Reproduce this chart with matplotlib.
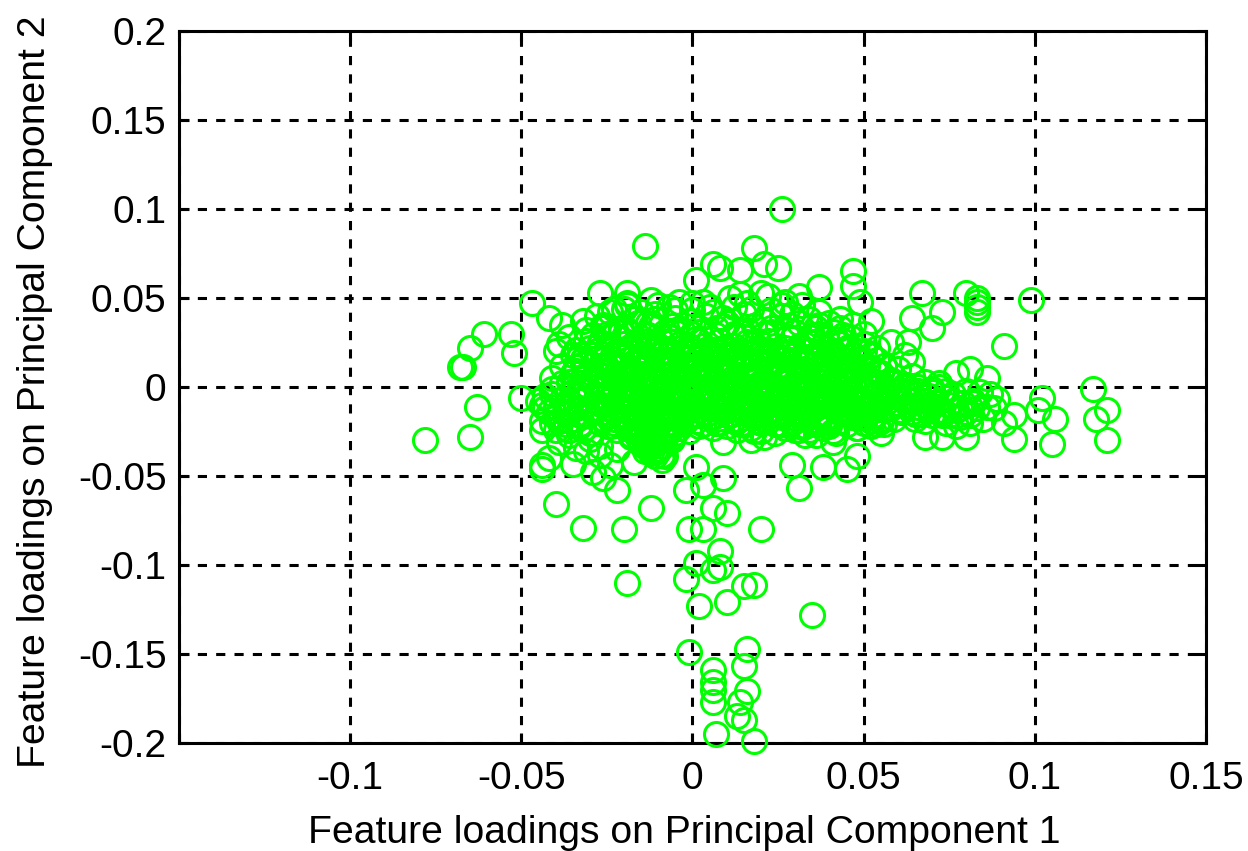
import matplotlib
matplotlib.use('Agg')
import matplotlib.pyplot as plt

plt.rcParams['font.family'] = ['Liberation Sans', 'DejaVu Sans']

xtick_vals = [-0.15, -0.1, -0.05, 0, 0.05, 0.1, 0.15]
xtick_text = ['', '-0.1', '-0.05', '0', '0.05', '0.1', '0.15']
ytick_vals = [-0.2, -0.15, -0.1, -0.05, 0, 0.05, 0.1, 0.15, 0.2]
ytick_text = ['-0.2', '-0.15', '-0.1', '-0.05', '0', '0.05', '0.1', '0.15', '0.2']

# points standing on their own, left side of the cloud
left_x = [-0.078, -0.068, -0.067, -0.065, -0.061, -0.053, -0.052, -0.063, -0.065, -0.050,
          -0.047, -0.042, -0.039, -0.040, -0.044, -0.042, -0.044, -0.044, -0.040, -0.032,
          -0.020, -0.019, -0.012, -0.014, -0.027, -0.019, -0.022, -0.035, -0.029, -0.026,
          -0.024, -0.017, -0.009, -0.019, -0.012, -0.004, -0.038, -0.032, -0.024]
left_y = [-0.030, 0.011, 0.011, 0.022, 0.030, 0.030, 0.019, -0.011, -0.028, -0.006,
          0.047, 0.039, 0.024, 0.020, -0.024, -0.040, -0.044, -0.046, -0.066, -0.079,
          -0.080, -0.110, -0.068, 0.079, 0.053, 0.053, -0.058, -0.043, -0.048, -0.051,
          -0.044, -0.042, -0.041, 0.046, 0.049, 0.048, 0.035, 0.037, 0.042]

# the tail going down along x = 0
low_x = [-0.001, 0.003, 0.010, 0.006, 0.020, -0.002, 0.003, 0.009, 0.001, 0.008,
         0.001, 0.008, 0.006, -0.002, 0.015, 0.018, 0.002, 0.010, 0.035, -0.001,
         0.016, 0.006, 0.015, 0.006, 0.006, 0.016, 0.006, 0.014, 0.013, 0.015,
         0.007, 0.018, 0.029, 0.031, 0.009]
low_y = [-0.080, -0.080, -0.071, -0.068, -0.080, -0.058, -0.055, -0.051, -0.045, -0.092,
         -0.099, -0.101, -0.103, -0.108, -0.112, -0.111, -0.123, -0.121, -0.128, -0.149,
         -0.147, -0.159, -0.157, -0.166, -0.170, -0.171, -0.177, -0.177, -0.185, -0.187,
         -0.195, -0.199, -0.044, -0.057, -0.031]

# top and right outliers
right_x = [0.026, 0.018, 0.006, 0.008, 0.014, 0.021, 0.025, 0.001, 0.037, 0.047,
           0.047, 0.049, 0.052, 0.067, 0.073, 0.064, 0.070, 0.080, 0.083, 0.083,
           0.083, 0.083, 0.091, 0.099, 0.064, 0.063, 0.077, 0.081, 0.086, 0.072,
           0.102, 0.101, 0.106, 0.105, 0.117, 0.121, 0.118, 0.121, 0.094, 0.094,
           0.089, 0.055, 0.068, 0.073, 0.080, 0.048, 0.045, 0.038, 0.041, 0.031, 0.017]
right_y = [0.100, 0.078, 0.069, 0.067, 0.066, 0.069, 0.067, 0.060, 0.056, 0.065,
           0.057, 0.048, 0.037, 0.053, 0.042, 0.039, 0.033, 0.053, 0.050, 0.048,
           0.045, 0.042, 0.023, 0.049, 0.014, 0.025, 0.008, 0.010, 0.005, 0.002,
           -0.006, -0.013, -0.018, -0.032, -0.001, -0.013, -0.018, -0.030, -0.029, -0.016,
           -0.007, -0.026, -0.028, -0.028, -0.028, -0.039, -0.046, -0.045, -0.031, -0.024, -0.030]

# dense middle of the cloud
core_x = [-0.021, -0.013, -0.006, 0.002, 0.009, 0.016, 0.023, 0.031, 0.038, 0.045,
          -0.026, -0.017, -0.009, -0.002, 0.005, 0.013, 0.020, 0.027, 0.034, 0.042,
          -0.023, -0.015, -0.007, 0.001, 0.007, 0.011, 0.018, 0.025, 0.036, 0.047,
          -0.028, -0.019, -0.011, -0.004, 0.003, 0.010, 0.017, 0.024, 0.032, 0.040,
          -0.025, -0.016, -0.008, -0.001, 0.006, 0.014, 0.021, 0.029, 0.037, 0.045,
          -0.030, -0.021, -0.012, -0.005, 0.002, 0.009, 0.016, 0.023, 0.033, 0.041,
          -0.027, -0.018, -0.010, -0.003, 0.004, 0.012, 0.019, 0.027, 0.035, 0.048,
          -0.024, -0.014, -0.007, 0.000, 0.008, 0.015, 0.022, 0.030, 0.039, 0.046,
          -0.029, -0.020, -0.012, -0.004, 0.003, 0.011, 0.018, 0.026, 0.034, 0.043,
          -0.026, -0.017, -0.009, -0.002, 0.006, 0.013, 0.021, 0.028, 0.037, 0.049,
          -0.019, -0.011, -0.003, 0.004, 0.012, 0.019, 0.026, 0.033, 0.040, 0.047,
          -0.024, -0.015, -0.008, 0.000, 0.008, 0.015, 0.022, 0.029, 0.036, 0.044,
          -0.022, -0.013, -0.005, 0.003, 0.010, 0.017, 0.024, 0.031, 0.039, 0.046,
          -0.027, -0.018, -0.010, -0.002, 0.005, 0.012, 0.020, 0.028, 0.035, 0.043,
          -0.023, -0.014, -0.006, 0.001, 0.009, 0.016, 0.023, 0.032, 0.038, 0.050,
          -0.028, -0.019, -0.011, -0.003, 0.004, 0.011, 0.018, 0.025, 0.033, 0.042,
          -0.025, -0.016, -0.008, 0.000, 0.007, 0.014, 0.021, 0.029, 0.036, 0.045,
          -0.022, -0.013, -0.005, 0.002, 0.010, 0.017, 0.024, 0.031, 0.040, 0.047,
          -0.027, -0.018, -0.009, -0.001, 0.005, 0.012, 0.019, 0.027, 0.034, 0.041,
          -0.024, -0.015, -0.007, 0.001, 0.008, 0.015, 0.023, 0.030, 0.038, 0.044,
          -0.020, -0.012, -0.004, 0.004, 0.011, 0.018, 0.025, 0.032, 0.039, 0.046,
          -0.026, -0.017, -0.009, -0.002, 0.006, 0.013, 0.020, 0.028, 0.035, 0.042,
          -0.021, -0.012, -0.005, 0.003, 0.009, 0.016, 0.022, 0.030, 0.037, 0.044,
          -0.023, -0.014, -0.006, 0.002, 0.007, 0.014, 0.020, 0.026, 0.033, 0.040]
core_y = [0.021, 0.024, 0.019, 0.026, 0.022, 0.025, 0.020, 0.023, 0.019, 0.022,
          0.015, 0.017, 0.019, 0.016, 0.018, 0.015, 0.019, 0.016, 0.017, 0.014,
          0.012, 0.011, 0.013, 0.012, 0.010, 0.013, 0.011, 0.012, 0.010, 0.012,
          0.008, 0.007, 0.006, 0.008, 0.005, 0.007, 0.006, 0.008, 0.005, 0.007,
          0.003, 0.002, 0.004, 0.001, 0.003, 0.002, 0.004, 0.001, 0.003, 0.002,
          -0.002, -0.001, -0.003, -0.001, -0.002, -0.003, -0.001, -0.002, -0.003, -0.001,
          -0.006, -0.005, -0.007, -0.006, -0.005, -0.007, -0.006, -0.005, -0.007, -0.006,
          -0.010, -0.011, -0.009, -0.010, -0.011, -0.009, -0.010, -0.011, -0.009, -0.010,
          -0.014, -0.013, -0.015, -0.013, -0.014, -0.015, -0.013, -0.014, -0.015, -0.013,
          -0.018, -0.017, -0.019, -0.018, -0.017, -0.019, -0.018, -0.017, -0.019, -0.017,
          0.018, 0.020, 0.017, 0.021, 0.018, 0.022, 0.017, 0.020, 0.016, 0.018,
          0.009, 0.014, 0.010, 0.014, 0.009, 0.010, 0.014, 0.009, 0.013, 0.009,
          0.005, 0.006, 0.009, 0.005, 0.010, 0.004, 0.008, 0.005, 0.008, 0.005,
          0.001, 0.000, 0.002, 0.003, 0.000, 0.003, 0.000, 0.003, 0.000, 0.004,
          -0.004, -0.003, -0.005, -0.004, -0.003, -0.005, -0.004, -0.003, -0.005, -0.003,
          -0.009, -0.008, -0.010, -0.008, -0.009, -0.008, -0.009, -0.008, -0.010, -0.008,
          -0.012, -0.014, -0.012, -0.015, -0.012, -0.013, -0.012, -0.014, -0.012, -0.012,
          -0.016, -0.015, -0.017, -0.016, -0.016, -0.016, -0.015, -0.016, -0.017, -0.015,
          0.024, 0.022, 0.026, 0.023, 0.027, 0.023, 0.026, 0.022, 0.025, 0.020,
          0.013, 0.016, 0.015, 0.010, 0.014, 0.017, 0.015, 0.018, 0.012, 0.016,
          0.006, 0.004, 0.007, 0.007, 0.004, 0.005, 0.006, 0.004, 0.006, 0.004,
          -0.001, 0.001, 0.000, 0.003, -0.001, 0.000, 0.001, -0.001, 0.001, 0.000,
          -0.007, -0.009, -0.006, -0.008, -0.007, -0.010, -0.007, -0.008, -0.006, -0.009,
          -0.020, -0.021, -0.020, -0.022, -0.020, -0.021, -0.020, -0.021, -0.022, -0.020]

# second pass over the solid part, rows of 12
solid_x = [-0.027, -0.020, -0.013, -0.006, 0.001, 0.008, 0.015, 0.022, 0.029, 0.036, 0.043, 0.050,
           -0.025, -0.018, -0.011, -0.004, 0.003, 0.010, 0.017, 0.024, 0.031, 0.038, 0.045, 0.052,
           -0.022, -0.015, -0.008, -0.001, 0.006, 0.013, 0.020, 0.027, 0.034, 0.041, 0.048, 0.054,
           -0.029, -0.021, -0.014, -0.007, 0.000, 0.007, 0.014, 0.021, 0.028, 0.035, 0.042, 0.049,
           -0.026, -0.019, -0.012, -0.005, 0.002, 0.009, 0.016, 0.023, 0.030, 0.037, 0.044, 0.051,
           -0.024, -0.017, -0.010, -0.003, 0.004, 0.011, 0.018, 0.025, 0.032, 0.039, 0.046, 0.053,
           -0.023, -0.016, -0.009, -0.002, 0.005, 0.012, 0.019, 0.026, 0.033, 0.040, 0.047, 0.055,
           -0.027, -0.020, -0.013, -0.006, 0.001, 0.008, 0.015, 0.022, 0.029, 0.036, 0.043, 0.050,
           -0.025, -0.018, -0.011, -0.004, 0.003, 0.010, 0.017, 0.024, 0.031, 0.038, 0.045, 0.052,
           -0.022, -0.015, -0.008, -0.001, 0.006, 0.013, 0.020, 0.027, 0.034, 0.041, 0.048, 0.054,
           -0.029, -0.021, -0.014, -0.007, 0.000, 0.007, 0.014, 0.021, 0.028, 0.035, 0.042, 0.049,
           -0.026, -0.019, -0.012, -0.005, 0.002, 0.009, 0.016, 0.023, 0.030, 0.037, 0.044, 0.051,
           -0.024, -0.017, -0.010, -0.003, 0.004, 0.011, 0.018, 0.025, 0.032, 0.039, 0.046, 0.053,
           -0.023, -0.016, -0.009, -0.002, 0.005, 0.012, 0.019, 0.026, 0.033, 0.040, 0.047, 0.055,
           -0.027, -0.020, -0.013, -0.006, 0.001, 0.008, 0.015, 0.022, 0.029, 0.036, 0.043, 0.050,
           -0.025, -0.018, -0.011, -0.004, 0.003, 0.010, 0.017, 0.024, 0.031, 0.038, 0.045, 0.052,
           -0.022, -0.015, -0.008, -0.001, 0.006, 0.013, 0.020, 0.027, 0.034, 0.041, 0.048, 0.054,
           -0.029, -0.021, -0.014, -0.007, 0.000, 0.007, 0.014, 0.021, 0.028, 0.035, 0.042, 0.049,
           -0.026, -0.019, -0.012, -0.005, 0.002, 0.009, 0.016, 0.023, 0.030, 0.037, 0.044, 0.051,
           -0.024, -0.017, -0.010, -0.003, 0.004, 0.011, 0.018, 0.025, 0.032, 0.039, 0.046, 0.053,
           -0.023, -0.016, -0.009, -0.002, 0.005, 0.012, 0.019, 0.026, 0.033, 0.040, 0.047, 0.055,
           -0.027, -0.020, -0.013, -0.006, 0.001, 0.008, 0.015, 0.022, 0.029, 0.036, 0.043, 0.050,
           -0.025, -0.018, -0.011, -0.004, 0.003, 0.010, 0.017, 0.024, 0.031, 0.038, 0.045, 0.052,
           -0.022, -0.015, -0.008, -0.001, 0.006, 0.013, 0.020, 0.027, 0.034, 0.041, 0.048, 0.054,
           -0.029, -0.021, -0.014, -0.007, 0.000, 0.007, 0.014, 0.021, 0.028, 0.035, 0.042, 0.049,
           -0.026, -0.019, -0.012, -0.005, 0.002, 0.009, 0.016, 0.023, 0.030, 0.037, 0.044, 0.051,
           -0.024, -0.017, -0.010, -0.003, 0.004, 0.011, 0.018, 0.025, 0.032, 0.039, 0.046, 0.053,
           -0.023, -0.016, -0.009, -0.002, 0.005, 0.012, 0.019, 0.026, 0.033, 0.040, 0.047, 0.055]
solid_y = [0.025, 0.024, 0.026, 0.025, 0.027, 0.026, 0.028, 0.026, 0.027, 0.025, 0.024, 0.020,
           0.022, 0.023, 0.022, 0.024, 0.023, 0.022, 0.024, 0.023, 0.022, 0.023, 0.021, 0.018,
           0.020, 0.021, 0.020, 0.019, 0.021, 0.020, 0.021, 0.019, 0.020, 0.019, 0.020, 0.015,
           0.018, 0.017, 0.018, 0.019, 0.017, 0.018, 0.017, 0.018, 0.019, 0.017, 0.016, 0.016,
           0.016, 0.015, 0.016, 0.014, 0.016, 0.015, 0.016, 0.014, 0.015, 0.016, 0.015, 0.012,
           0.013, 0.014, 0.012, 0.013, 0.012, 0.014, 0.013, 0.012, 0.014, 0.013, 0.012, 0.010,
           0.011, 0.010, 0.011, 0.009, 0.011, 0.010, 0.009, 0.011, 0.010, 0.009, 0.010, 0.008,
           0.009, 0.008, 0.007, 0.008, 0.009, 0.008, 0.007, 0.009, 0.008, 0.007, 0.008, 0.006,
           0.006, 0.007, 0.005, 0.006, 0.007, 0.006, 0.005, 0.006, 0.007, 0.005, 0.006, 0.004,
           0.004, 0.003, 0.004, 0.005, 0.003, 0.004, 0.003, 0.005, 0.004, 0.003, 0.004, 0.002,
           0.002, 0.001, 0.002, 0.003, 0.001, 0.002, 0.001, 0.002, 0.003, 0.001, 0.002, 0.000,
           0.000, -0.001, 0.001, 0.000, -0.001, 0.000, -0.001, 0.001, 0.000, -0.001, 0.000, -0.002,
           -0.002, -0.001, -0.003, -0.002, -0.001, -0.002, -0.003, -0.002, -0.001, -0.003, -0.002, -0.004,
           -0.004, -0.003, -0.004, -0.005, -0.003, -0.004, -0.005, -0.003, -0.004, -0.005, -0.004, -0.006,
           -0.006, -0.005, -0.006, -0.007, -0.005, -0.006, -0.007, -0.005, -0.006, -0.007, -0.006, -0.008,
           -0.008, -0.007, -0.008, -0.009, -0.007, -0.008, -0.009, -0.007, -0.008, -0.009, -0.008, -0.010,
           -0.010, -0.009, -0.011, -0.010, -0.009, -0.011, -0.010, -0.009, -0.011, -0.010, -0.009, -0.012,
           -0.012, -0.011, -0.012, -0.013, -0.011, -0.012, -0.013, -0.011, -0.012, -0.013, -0.011, -0.014,
           -0.014, -0.013, -0.014, -0.015, -0.013, -0.014, -0.015, -0.013, -0.014, -0.015, -0.013, -0.015,
           -0.016, -0.015, -0.016, -0.017, -0.015, -0.016, -0.017, -0.015, -0.016, -0.017, -0.015, -0.017,
           -0.018, -0.017, -0.018, -0.019, -0.017, -0.018, -0.019, -0.017, -0.018, -0.019, -0.017, -0.018,
           -0.020, -0.019, -0.020, -0.021, -0.019, -0.020, -0.021, -0.019, -0.020, -0.021, -0.019, -0.020,
           -0.022, -0.021, -0.022, -0.023, -0.021, -0.022, -0.023, -0.021, -0.022, -0.023, -0.021, -0.019,
           -0.024, -0.023, -0.024, -0.025, -0.023, -0.024, -0.025, -0.023, -0.024, -0.025, -0.023, -0.021,
           0.029, 0.031, 0.030, 0.028, 0.030, 0.029, 0.031, 0.030, 0.028, 0.029, 0.027, 0.014,
           0.033, 0.032, 0.034, 0.031, 0.033, 0.034, 0.032, 0.033, 0.031, 0.030, 0.029, 0.005,
           -0.003, -0.006, -0.009, -0.012, -0.005, -0.008, -0.011, -0.004, -0.007, -0.010, -0.013, -0.016,
           0.006, 0.003, -0.002, -0.005, 0.008, 0.002, -0.004, 0.007, 0.001, -0.006, -0.012, -0.009]

# the blob under the cloud at x = -0.012
blob_x = [-0.017, -0.015, -0.013, -0.011, -0.009, -0.007, -0.016, -0.014, -0.012, -0.010,
          -0.008, -0.006, -0.015, -0.013, -0.011, -0.009, -0.014, -0.012, -0.010, -0.013,
          -0.011, -0.009, -0.012, -0.010, -0.016, -0.008, -0.018, -0.006, -0.005, -0.019]
blob_y = [-0.024, -0.025, -0.024, -0.026, -0.025, -0.024, -0.028, -0.029, -0.028, -0.030,
          -0.029, -0.028, -0.032, -0.033, -0.032, -0.033, -0.036, -0.037, -0.036, -0.035,
          -0.039, -0.038, -0.033, -0.035, -0.020, -0.021, -0.027, -0.023, -0.026, -0.022]

# right tail that stays nearly solid, and the left edge of the cloud
tail_x = [0.056, 0.059, 0.062, 0.065, 0.068, 0.071, 0.057, 0.060, 0.063, 0.066,
          0.069, 0.072, 0.058, 0.061, 0.064, 0.067, 0.070, 0.073, 0.056, 0.060,
          0.063, 0.066, 0.069, 0.074, 0.076, 0.079, 0.082, 0.077, 0.080, 0.083,
          0.075, 0.078, 0.081, 0.058, 0.062, 0.066, 0.070, 0.074, 0.065, 0.068]
tail_y = [-0.004, -0.005, -0.006, -0.007, -0.008, -0.009, -0.008, -0.009, -0.010, -0.011,
          -0.012, -0.013, -0.012, -0.013, -0.014, -0.015, -0.016, -0.016, -0.001, -0.002,
          -0.003, -0.004, -0.005, -0.006, -0.008, -0.009, -0.008, -0.013, -0.014, -0.012,
          -0.016, -0.017, -0.016, 0.002, 0.001, 0.000, -0.001, -0.002, -0.018, -0.019]
edge_x = [-0.033, -0.032, -0.034, -0.031, -0.036, -0.033, -0.035, -0.032, -0.037, -0.034,
          -0.031, -0.035, -0.033, -0.030, -0.032, -0.034, -0.031, -0.033, -0.036, -0.032,
          -0.041, -0.038, -0.043, -0.040, -0.037, -0.042, -0.039, -0.036, -0.044, -0.041]
edge_y = [0.018, 0.013, 0.009, 0.006, 0.003, 0.000, -0.003, -0.006, -0.009, -0.012,
          -0.015, -0.018, -0.021, 0.022, 0.016, 0.011, 0.001, -0.008, -0.014, -0.024,
          -0.001, -0.007, -0.005, -0.011, -0.015, -0.014, -0.019, -0.024, -0.010, -0.020]

# looser ring around the middle, plus the tail to the right
ring_x = [-0.045, -0.041, -0.038, -0.035, -0.032, -0.036, -0.040, -0.043, -0.037, -0.033,
          -0.044, -0.040, -0.036, -0.033, -0.030, -0.038, -0.034, -0.031, -0.041, -0.035,
          -0.039, -0.034, -0.030, -0.027, -0.036, -0.031, -0.028, -0.025, -0.033, -0.029,
          -0.026, -0.021, -0.016, -0.011, -0.006, -0.001, 0.004, 0.010, 0.015, 0.021,
          0.026, 0.031, 0.036, 0.041, 0.046, -0.023, -0.018, -0.013, -0.008, -0.003,
          0.002, 0.007, 0.012, 0.018, 0.023, 0.028, 0.034, 0.039, 0.044, 0.050,
          -0.020, -0.015, -0.010, -0.005, 0.000, 0.005, 0.011, 0.016, 0.022, 0.027,
          0.032, 0.037, 0.043, -0.031, -0.027, -0.022, -0.018, -0.014, -0.010, -0.006,
          -0.016, -0.013, -0.011, -0.008, -0.015, -0.012, -0.009, -0.012, -0.010, -0.007,
          0.018, 0.024, 0.030, 0.036, 0.042, 0.048, 0.021, 0.027, 0.033, 0.040,
          0.052, 0.056, 0.060, 0.064, 0.068, 0.072, 0.054, 0.058, 0.062, 0.066,
          0.070, 0.052, 0.056, 0.060, 0.064, 0.068, 0.053, 0.057, 0.061, 0.065,
          0.069, 0.073, 0.076, 0.080, 0.084, 0.087, 0.075, 0.078, 0.082, 0.086,
          0.074, 0.077, 0.081, 0.085, 0.088, 0.091, 0.055, 0.059, 0.052, 0.056]
ring_y = [-0.008, -0.004, 0.002, 0.008, 0.015, -0.012, -0.016, -0.012, -0.021, -0.016,
          -0.019, -0.024, -0.027, -0.022, -0.029, 0.012, 0.021, 0.026, 0.005, 0.018,
          -0.031, -0.034, -0.026, -0.033, 0.028, 0.032, 0.020, 0.030, -0.004, 0.003,
          0.035, 0.033, 0.036, 0.038, 0.034, 0.037, 0.040, 0.036, 0.041, 0.037,
          0.040, 0.036, 0.033, 0.031, 0.028, 0.029, 0.030, 0.029, 0.031, 0.032,
          0.031, 0.033, 0.030, 0.034, 0.031, 0.032, 0.028, 0.027, 0.026, 0.024,
          0.044, 0.042, 0.046, 0.043, 0.047, 0.045, 0.050, 0.047, 0.051, 0.048,
          0.046, 0.042, 0.038, -0.036, -0.038, -0.035, -0.028, -0.033, -0.036, -0.030,
          -0.026, -0.030, -0.036, -0.039, -0.023, -0.025, -0.027, -0.033, -0.029, -0.024,
          -0.025, -0.026, -0.024, -0.027, -0.026, -0.023, -0.028, -0.023, -0.027, -0.022,
          0.018, 0.012, 0.010, 0.006, 0.003, 0.000, 0.008, 0.004, 0.000, -0.002,
          -0.003, 0.000, -0.003, -0.005, -0.008, -0.010, -0.010, -0.012, -0.014, -0.015,
          -0.013, -0.014, -0.004, -0.002, -0.003, -0.004, -0.010, -0.012, -0.009, -0.011,
          -0.020, -0.022, -0.020, -0.018, -0.012, -0.020, -0.019, -0.018, -0.022, -0.021]

# loose points above the cloud
upper_x = [-0.028, -0.023, -0.017, -0.011, -0.005, 0.000, 0.006, 0.012, 0.017, 0.023,
           0.029, 0.034, 0.040, -0.025, -0.019, -0.013, -0.007, 0.003, 0.009, 0.014,
           0.020, 0.026, 0.031, 0.037, 0.043, 0.047, 0.054, 0.058, 0.062, 0.050]
upper_y = [0.040, 0.044, 0.038, 0.041, 0.039, 0.043, 0.042, 0.045, 0.044, 0.043,
           0.041, 0.038, 0.036, 0.034, 0.047, 0.036, 0.045, 0.048, 0.039, 0.052,
           0.053, 0.046, 0.051, 0.035, 0.033, 0.035, 0.022, 0.025, 0.018, 0.030]

fig = plt.figure(figsize=(12.48, 8.51), dpi=100)
ax = fig.add_axes([179/1248, 1-743/851, 1027/1248, 712/851])

groups = [(left_x, left_y), (low_x, low_y), (right_x, right_y), (core_x, core_y), (solid_x, solid_y),
          (blob_x, blob_y), (tail_x, tail_y), (edge_x, edge_y), (ring_x, ring_y), (upper_x, upper_y)]
for px, py in groups:
    ax.plot(px, py, 'o', mfc='none', mec=(0, 1, 0), ms=17.3, mew=2.2, clip_on=False, zorder=3)

ax.set_xlim(-0.15, 0.15)
ax.set_ylim(-0.2, 0.2)
ax.set_xticks(xtick_vals)
ax.set_xticklabels(xtick_text)
ax.set_yticks(ytick_vals)
ax.set_yticklabels(ytick_text)
ax.tick_params(axis='both', direction='in', length=7, width=2.2, labelsize=28, top=True, right=True)
ax.tick_params(axis='x', pad=13)
ax.tick_params(axis='y', pad=9)
ax.grid(True, color='black', linewidth=2.2, linestyle=(0, (3, 3)), zorder=1)
for s in ax.spines.values():
    s.set_linewidth(2.2)
ax.set_xlabel('Feature loadings on Principal Component 1', fontsize=28.2, labelpad=13, x=0.4917)
ax.set_ylabel('Feature loadings on Principal Component 2', fontsize=28.2, labelpad=18, y=0.493)

fig.savefig('out.png', dpi=100)
